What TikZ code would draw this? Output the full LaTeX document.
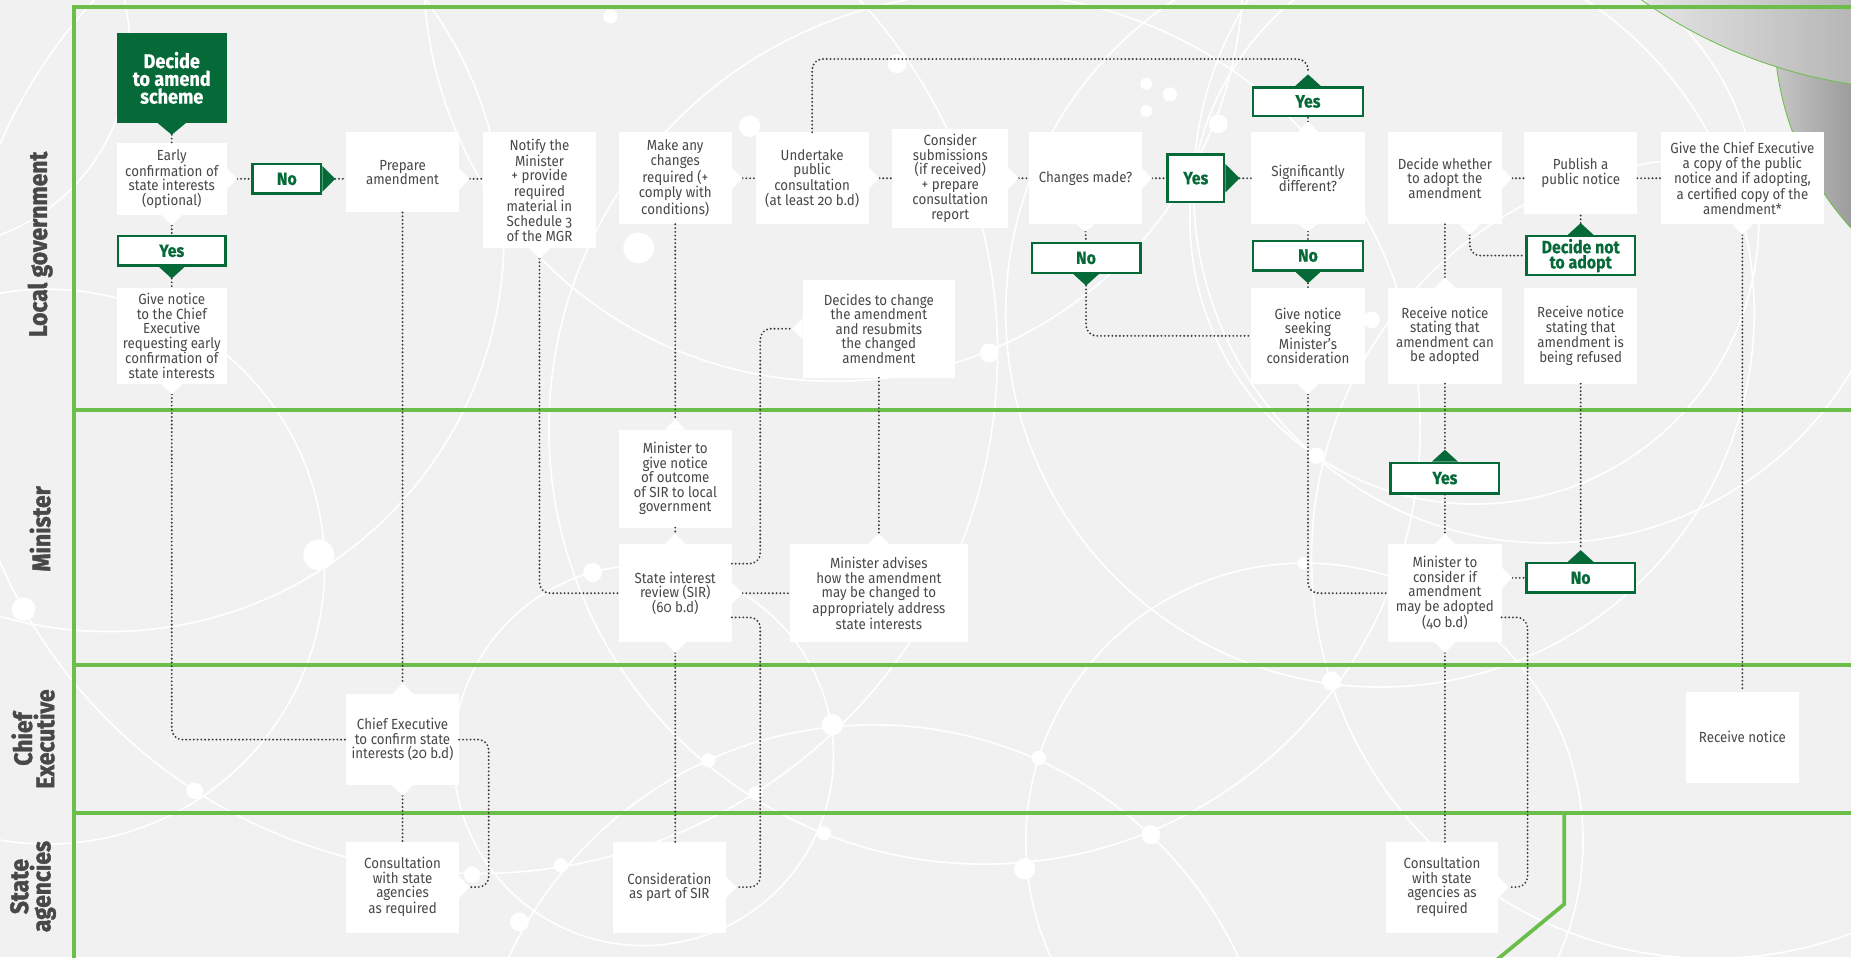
\documentclass[tikz,border=0pt]{standalone}
\usepackage{fontspec}
\setmainfont[FakeStretch=0.91,Numbers=OldStyle]{Fira Sans}
\newfontfamily\lanefont[FakeStretch=0.9,BoldFeatures={FakeBold=1.6}]{Fira Sans}
\newfontfamily\gfont[FakeStretch=0.9,BoldFeatures={FakeBold=0.6}]{Fira Sans}
\usetikzlibrary{calc}
\definecolor{bg}{RGB}{241,241,241}
\definecolor{lgreen}{RGB}{108,190,75}
\definecolor{dgreen}{RGB}{6,106,56}
\definecolor{txt}{RGB}{72,72,72}
\definecolor{dotc}{RGB}{60,60,60}
\definecolor{lda}{RGB}{228,228,228}
\definecolor{ldb}{RGB}{182,182,182}
\definecolor{dda}{RGB}{200,200,200}
\definecolor{ddb}{RGB}{155,155,155}
\newcommand\pD[4]{\fill[#1] ($#4+(-#2,0)$) -- ($#4+(0,#3)$) -- ($#4+(#2,0)$) -- cycle;}
\newcommand\pU[4]{\fill[#1] ($#4+(-#2,0)$) -- ($#4+(0,-#3)$) -- ($#4+(#2,0)$) -- cycle;}
\newcommand\pR[4]{\fill[#1] ($#4+(0,-#2)$) -- ($#4+(#3,0)$) -- ($#4+(0,#2)$) -- cycle;}
\newcommand\pL[4]{\fill[#1] ($#4+(0,-#2)$) -- ($#4+(-#3,0)$) -- ($#4+(0,#2)$) -- cycle;}
\tikzset{
 box/.style={fill=white, text=txt, align=center, inner sep=0pt, outer sep=0pt, font=\fontsize{12.4}{12.3}\selectfont},
 gbox/.style={fill=white, draw=dgreen, line width=2pt, text=dgreen, align=center, inner sep=0pt, font=\gfont\bfseries\fontsize{15}{12.8}\selectfont},
 dbox/.style={fill=dgreen, text=white, align=center, inner sep=0pt, font=\gfont\bfseries\fontsize{17}{15}\selectfont},
 conn/.style={draw=dotc, line width=1.8pt, dash pattern=on 0pt off 3.2pt, line cap=round, rounded corners=9pt},
 lane/.style={draw=lgreen, line width=3.2pt},
 lanelab/.style={text=txt, align=center, font=\lanefont\bfseries\fontsize{21.5}{17.5}\selectfont, inner sep=0pt},
 deco/.style={draw=white, line width=1.4pt},
 sz/.style 2 args={minimum width=#1pt, minimum height=#2pt},
}
\begin{document}
\begin{tikzpicture}[x=1pt,y=-1pt]
\clip (0,0) rectangle (1568,811);
\fill[bg] (0,0) rectangle (1568,811);
% decoration
\begin{scope}[deco]
\draw (40,480) circle (235);
\draw (92,200) circle (335);
\draw (404,299) circle (441);
\draw (706,-24) circle (347);
\draw (834,363) circle (369);
\draw (740,955) circle (341);
\draw (1105,713) circle (236);
\draw (1169,265) circle (317);
\draw (1311,160) circle (300);
\draw (1249,186) circle (241);
\draw (1450,473) circle (339);
\draw (545,640) circle (161);
\draw (-60,40) circle (170);
\end{scope}
\foreach \x/\y/\r in {517/14/6,635/107/9,541/210/13,760/54/8,971/71/5,991/80/6,971/94/5,1032/105/8,838/299/8,1162/271/7,1115/386/7,270/470/13,20/516/10,502/485/8,705/614/9,600/644/6,640/672/6,165/670/7,440/781/8,475/733/6,400/741/7,698/706/6,975/707/8,868/736/9,880/642/6,1128/577/8,1104/477/5}
  \fill[white] (\x,\y) circle (\r);
% grey corner
\begin{scope}
\clip (1753,25) circle (250);
\shade[left color=dda, right color=ddb] (1500,-230) rectangle (1570,280);
\end{scope}
\draw[lgreen, line width=0.7pt] (1753,25) circle (250);
\begin{scope}
\clip (1631,-342) circle (418);
\shade[left color=lda, right color=ldb] (1395,-10) rectangle (1570,90);
\end{scope}
\draw[lgreen, line width=0.7pt] (1631,-342) circle (418);
% lanes
\draw[lane] (1572,6) -- (63,6) -- (63,815);
\draw[lane] (63,347) -- (1572,347);
\draw[lane] (63,563) -- (1572,563);
\draw[lane] (63,689) -- (1572,689);
\draw[lane] (1325,689) -- (1325,766) -- (1262,818);
\node[lanelab, rotate=90] (lg) at (34,207) {Local government};
\node[lanelab, rotate=90] (mi) at (34,448) {Minister};
\node[lanelab, rotate=90] (ce) at (28,626) {Chief\\Executive};
\node[lanelab, rotate=90] (sa) at (28,751) {State\\agencies};
% nodes
\node[dbox, sz={93}{76}] (A) at (145.5,66) {Decide\\to amend\\scheme};
\node[box, sz={93}{61}] (B) at (145.5,151.5) {Early\\confirmation of\\state interests\\(optional)};
\node[gbox, sz={91}{25}] (Yes1) at (145.5,212.5) {Yes};
\node[box, sz={93}{81}] (E) at (145.5,284.5) {Give notice\\to the Chief\\Executive\\requesting early\\confirmation of\\state interests};
\node[gbox, sz={58}{25}] (No1) at (243,151.5) {No};
\node[box, sz={96}{68}] (C) at (341,146) {Prepare\\amendment};
\node[box, sz={96}{98}] (D) at (457,161) {Notify the\\Minister\\+ provide\\required\\material in\\Schedule 3\\of the MGR};
\node[box, sz={96}{78}] (F) at (572,151) {Make any\\changes\\required (+\\comply with\\conditions)};
\node[box, sz={96}{78}] (G) at (688,151) {Undertake\\public\\consultation\\(at least 20 b.d)};
\node[box, sz={98}{84}] (H) at (805,151) {Consider\\submissions\\(if received)\\+ prepare\\consultation\\report};
\node[box, sz={95}{78}] (I) at (919.5,151) {Changes made?};
\node[gbox, sz={48}{40}] (YesCM) at (1013,151) {Yes};
\node[gbox, sz={92}{25}] (NoCM) at (920,218.5) {No};
\node[box, sz={96}{78}] (J) at (1108,151) {Significantly\\different?};
\node[gbox, sz={93}{24}] (YesSD) at (1108,86) {Yes};
\node[gbox, sz={93}{25}] (NoSD) at (1108,216.5) {No};
\node[box, sz={96}{81}] (K) at (1108,284.5) {Give notice\\seeking\\Minister’s\\consideration};
\node[box, sz={96}{78}] (L) at (1224,151) {Decide whether\\to adopt the\\amendment};
\node[box, sz={96}{81}] (M) at (1224,284.5) {Receive notice\\stating that\\amendment can\\be adopted};
\node[box, sz={96}{69}] (N) at (1339,146.5) {Publish a\\public notice};
\node[gbox, sz={92}{33}] (DNA) at (1339,216.5) {Decide not\\to adopt};
\node[box, sz={138}{78}] (O) at (1476,151) {Give the Chief Executive\\a copy of the public\\notice and if adopting,\\a certified copy of the\\amendment*};
\node[box, sz={96}{81}] (P) at (1339,284.5) {Receive notice\\stating that\\amendment is\\being refused};
\node[box, sz={129}{83}] (Q) at (744.5,278.5) {Decides to change\\the amendment\\and resubmits\\the changed\\amendment};
\node[box, sz={96}{83}] (R) at (572,405.5) {Minister to\\give notice\\of outcome\\of SIR to local\\government};
\node[box, sz={96}{83}] (S) at (572,502.5) {State interest\\review (SIR)\\(60 b.d)};
\node[box, sz={151}{83}] (T) at (744.5,502.5) {Minister advises\\how the amendment\\may be changed to\\appropriately address\\state interests};
\node[gbox, sz={92}{26}] (YesMin) at (1224,405) {Yes};
\node[box, sz={96}{83}] (U) at (1224,502.5) {Minister to\\consider if\\amendment\\may be adopted\\(40 b.d)};
\node[gbox, sz={92}{25}] (NoMin) at (1339,489.5) {No};
\node[box, sz={96}{77}] (V) at (341,626.5) {Chief Executive\\to confirm state\\interests (20 b.d)};
\node[box, sz={96}{77}] (W) at (1476,624.5) {Receive notice};
\node[box, sz={96}{77}] (X) at (341,751.5) {Consultation\\with state\\agencies\\as required};
\node[box, sz={96}{77}] (Y) at (567,751.5) {Consideration\\as part of SIR};
\node[box, sz={95}{77}] (Z) at (1221.5,751.5) {Consultation\\with state\\agencies as\\required};
% helper coordinates
\coordinate (Ce) at (C.east |- B.east);
\coordinate (Lb) at ($(L.south)+(21,0)$);
\coordinate (Ue) at (U.east |- NoMin.west);
\coordinate (top) at (0,50);
% connectors
\draw[conn] ($(A.south)+(0,10)$) -- (B.north);
\draw[conn] ($(B.east)+(9,0)$) -- (No1.west |- B.east);
\draw[conn] ($(No1.east)+(11,0)$) -- (C.west |- No1.east);
\draw[conn] ($(Ce)+(9,0)$) -- (D.west |- B.east);
\draw[conn] ($(B.south)+(0,9)$) -- (Yes1.north);
\draw[conn] ($(Yes1.south)+(0,10)$) -- (E.north);
\draw[conn] ($(E.south)+(0,9)$) |- (V.west);
\draw[conn] (C.south) -- ($(V.north)+(0,-9)$);
\draw[conn] ($(V.south)+(0,9)$) -- (X.north);
\draw[conn] (V.east) -- ($(V.east)+(25,0)$) -- ($(X.east)+(25,0)$) -- ($(X.east)+(9,0)$);
\draw[conn] ($(D.south)+(0,9)$) |- (S.west);
\draw[conn] (F.south) -- ($(R.north)+(0,-9)$);
\draw[conn] ($(F.east)+(9,0)$) -- (G.west);
\draw[conn] ($(G.east)+(9,0)$) -- (H.west);
\draw[conn] ($(H.east)+(9,0)$) -- (I.west);
\draw[conn] ($(I.east)+(9,0)$) -- (YesCM.west |- I.east);
\draw[conn] ($(YesCM.east)+(12,0)$) -- (J.west |- YesCM.east);
\draw[conn] (G.north) -- (G.north |- top) -- (YesSD.north |- top) -- ($(YesSD.north)+(0,-11)$);
\draw[conn] ($(J.north)+(0,-9)$) -- (YesSD.south);
\draw[conn] ($(I.south)+(0,6)$) -- (NoCM.north);
\draw[conn] ($(NoCM.south)+(0,10)$) |- (K.west);
\draw[conn] ($(J.south)+(0,6)$) -- (NoSD.north);
\draw[conn] ($(NoSD.south)+(0,10)$) -- (K.north);
\draw[conn] ($(K.south)+(0,9)$) |- (U.west);
\draw[conn] ($(L.east)+(9,0)$) -- (N.west |- L.east);
\draw[conn] (N.east |- L.east) -- (O.west);
\draw[conn] (L.south) -- ($(M.north)+(0,-9)$);
\draw[conn] ($(Lb)+(0,9)$) |- (DNA.west);
\draw[conn] ($(DNA.north)+(0,-10)$) -- (N.south);
\draw[conn] ($(O.south)+(0,9)$) -- (W.north);
\draw[conn] (M.south) -- ($(YesMin.north)+(0,-11)$);
\draw[conn] (YesMin.south) -- ($(U.north)+(0,-9)$);
\draw[conn] (P.south) -- ($(NoMin.north)+(0,-11)$);
\draw[conn] ($(Ue)+(9,0)$) -- (NoMin.west);
\draw[conn] ($(U.south)+(0,9)$) -- (U.south |- Z.north);
\draw[conn] ($(U.east)+(0,20.5)$) -- ($(U.east)+(22,20.5)$) -- ($(Z.east)+(25,0)$) -- ($(Z.east)+(9,0)$);
\draw[conn] (R.south) -- ($(S.north)+(0,-9)$);
\draw[conn] ($(S.east)+(9,0)$) -- (T.west);
\draw[conn] ($(S.east)+(0,-25)$) -- ($(S.east)+(24,-25)$) -- ($(Q.west)+(-36,0)$) -- ($(Q.west)+(-9,0)$);
\draw[conn] ($(S.east)+(0,20.5)$) -- ($(S.east)+(24,20.5)$) -- ($(Y.east)+(29,0)$) -- ($(Y.east)+(9,0)$);
\draw[conn] ($(S.south)+(0,9)$) -- (S.south |- Y.north);
\draw[conn] (Q.south) -- ($(T.north)+(0,-9)$);
% white pointers
\pR{white}{9}{9}{(B.east)} \pD{white}{9}{9}{(B.south)}
\pR{white}{9}{9}{(Ce)}
\pD{white}{9}{9}{(D.south)}
\pD{white}{9}{9}{(E.south)}
\pR{white}{9}{9}{(F.east)} \pR{white}{9}{9}{(G.east)} \pR{white}{9}{9}{(H.east)} \pR{white}{9}{9}{(I.east)}
\pD{white}{8}{6}{(I.south)}
\pU{white}{9}{9}{(J.north)} \pD{white}{8}{6}{(J.south)}
\pD{white}{9}{9}{(K.south)}
\pR{white}{9}{9}{(L.east)} \pD{white}{9}{9}{(Lb)}
\pU{white}{9}{9}{(M.north)}
\pD{white}{9}{9}{(O.south)}
\pL{white}{9}{9}{(Q.west)}
\pU{white}{9}{9}{(R.north)}
\pU{white}{9}{9}{(S.north)} \pR{white}{9}{9}{(S.east)} \pD{white}{9}{9}{(S.south)}
\pU{white}{9}{9}{(T.north)}
\pU{white}{9}{9}{(U.north)} \pR{white}{9}{9}{(Ue)} \pD{white}{9}{9}{(U.south)}
\pU{white}{9}{9}{(V.north)} \pD{white}{9}{9}{(V.south)}
\pR{white}{9}{9}{(X.east)} \pR{white}{9}{9}{(Y.east)} \pR{white}{9}{9}{(Z.east)}
% dark pointers
\pD{dgreen}{12}{10}{(A.south)}
\pD{dgreen}{11}{10}{(Yes1.south)}
\pR{dgreen}{11}{11}{(No1.east)}
\pR{dgreen}{12}{12}{(YesCM.east)}
\pD{dgreen}{11}{10}{(NoCM.south)}
\pU{dgreen}{11}{10}{(YesSD.north)}
\pD{dgreen}{11}{10}{(NoSD.south)}
\pU{dgreen}{11}{10}{(DNA.north)}
\pU{dgreen}{11}{10}{(YesMin.north)}
\pU{dgreen}{11}{10}{(NoMin.north)}
\end{tikzpicture}
\end{document}
